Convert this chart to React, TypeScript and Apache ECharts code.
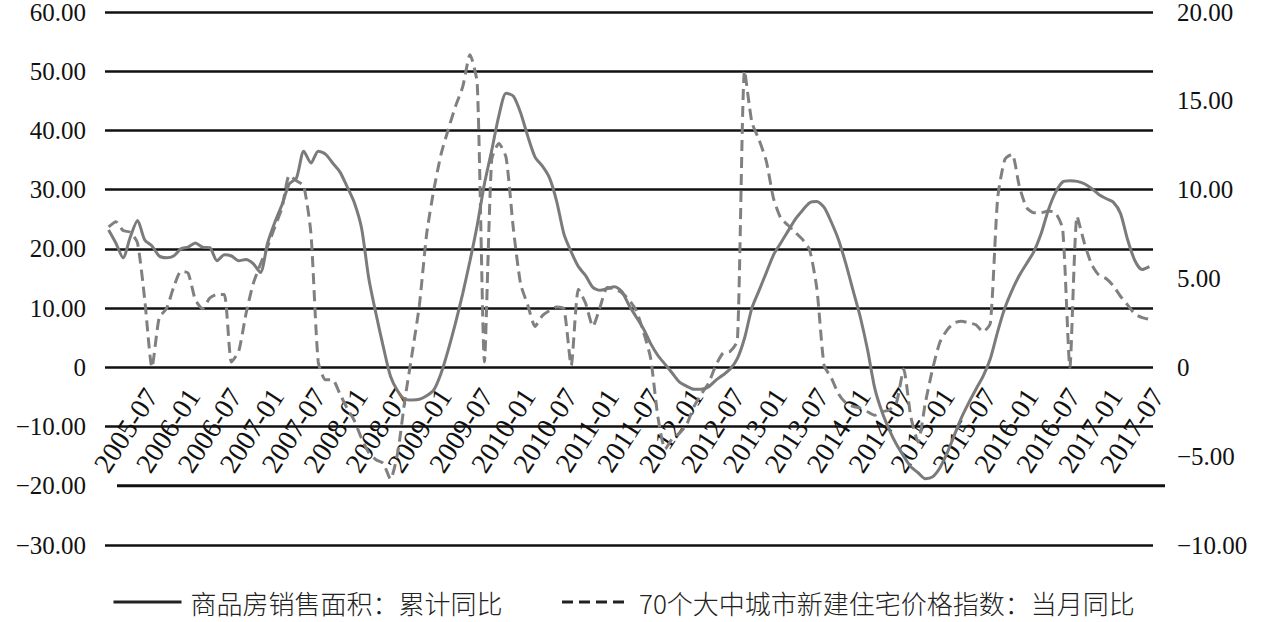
import React, { useEffect, useRef } from "react";
import * as echarts from "echarts";

// Monthly categories 2005-07 .. 2017-07
const months: string[] = (() => {
  const out: string[] = [];
  for (let y = 2005; y <= 2017; y++) {
    for (let m = 1; m <= 12; m++) {
      if (y === 2005 && m < 7) continue;
      if (y === 2017 && m > 7) break;
      out.push(`${y}-${m < 10 ? "0" + m : m}`);
    }
  }
  return out;
})();

const tickLabels: string[] = [
  "2005-07", "2006-01", "2006-07", "2007-01", "2007-07", "2008-01", "2008-07",
  "2009-01", "2009-07", "2010-01", "2010-07", "2011-01", "2011-07", "2012-01",
  "2012-07", "2013-01", "2013-07", "2014-01", "2014-07", "2015-01", "2015-07",
  "2016-01", "2016-07", "2017-01", "2017-07",
];

const seriesNames: string[] = [
  "商品房销售面积：累计同比",
  "70个大中城市新建住宅价格指数：当月同比",
];

// 商品房销售面积：累计同比 (left axis)
const salesArea: number[] = [
  23.2, 21.0, 18.5, 22.0, 24.8, 21.5, 20.5, 18.8, 18.5, 18.8,
  20.0, 20.3, 21.0, 20.3, 20.2, 18.0, 19.0, 18.8, 18.0, 18.2,
  17.5, 16.0, 21.0, 24.5, 27.5, 31.0, 32.0, 36.5, 34.5, 36.5,
  36.0, 34.5, 33.0, 30.5, 27.8, 23.5, 15.0, 9.0, 3.5, -1.5,
  -4.0, -5.4, -5.5, -5.4, -4.8, -3.8, -1.0, 3.0, 7.5, 12.5,
  18.0, 24.0, 31.0, 36.6, 42.5, 46.3, 45.8, 43.0, 39.0, 35.5,
  34.0, 32.0, 28.0, 22.5, 19.5, 17.0, 15.5, 13.5, 13.0, 13.3,
  13.6, 12.8, 10.5, 8.5, 6.5, 4.0, 2.0, 0.5, -1.0, -2.5,
  -3.2, -3.7, -3.7, -3.3, -2.2, -1.3, -0.3, 1.5, 5.0, 10.0,
  13.0, 16.0, 19.0, 21.0, 23.0, 25.0, 26.5, 27.8, 28.0, 27.0,
  24.5, 21.5, 17.5, 13.0, 8.5, 3.0, -3.5, -7.5, -10.5, -13.0,
  -15.0, -16.8, -17.8, -18.8, -18.5, -17.0, -14.5, -11.5, -8.5, -6.0,
  -3.7, -1.5, 1.5, 6.0, 10.0, 13.0, 15.5, 17.5, 19.5, 22.5,
  26.5, 29.5, 31.3, 31.5, 31.4, 31.0, 30.2, 29.2, 28.5, 27.9,
  26.0, 21.5, 18.0, 16.5, 17.0,
];

// 70个大中城市新建住宅价格指数：当月同比 (right axis)
const priceIndex: number[] = [
  7.9, 8.2, 7.7, 7.6, 7.0, 3.8, 0.0, 2.8, 3.3, 4.5,
  5.4, 5.3, 3.8, 3.3, 3.9, 4.1, 4.1, 0.3, 0.9, 3.0,
  4.7, 5.8, 6.8, 7.9, 9.0, 10.8, 10.5, 10.2, 7.5, 0.3,
  -0.7, -0.7, -1.5, -2.3, -3.0, -4.0, -4.8, -5.2, -5.4, -6.3,
  -4.8, -1.8, 0.8, 3.5, 7.5, 10.0, 12.0, 13.4, 14.7, 15.8,
  17.6, 16.0, 0.3, 11.7, 12.6, 11.8, 7.8, 4.7, 3.5, 2.3,
  2.9, 3.2, 3.4, 3.3, 0.1, 4.4, 3.6, 2.3, 3.4, 4.5,
  4.4, 4.2, 3.8, 3.2, 2.0, 0.5, -2.8, -4.6, -4.0, -3.7,
  -3.2, -2.2, -1.5, -0.9, 0.1, 0.8, 0.9, 1.5, 16.7, 13.8,
  12.8, 11.6, 9.5, 8.4, 8.0, 7.6, 7.2, 6.6, 4.4, 0.1,
  -0.6, -1.5, -2.0, -2.2, -2.3, -2.5, -2.7, -2.5, -2.4, -2.0,
  -0.1, -2.8, -4.2, -2.0, -0.1, 1.4, 2.1, 2.5, 2.6, 2.5,
  2.4, 2.0, 2.5, 9.5, 11.7, 12.0, 10.2, 9.0, 8.7, 8.7,
  8.8, 8.7, 7.8, 0.0, 8.5, 7.0, 5.8, 5.2, 5.0, 4.6,
  4.0, 3.5, 3.0, 2.8, 2.7,
];

const LEFT_MIN = -30;
const LEFT_MAX = 60;

const SERIF = "'Liberation Serif', 'Times New Roman', serif";
const CJK = "'Noto Sans CJK SC', 'Noto Sans', sans-serif";

const fmt = (v: number) =>
  v === 0 ? "0" : (v < 0 ? "\u2212" : "") + Math.abs(v).toFixed(2);

const GRID = { left: 105, right: 110, top: 12, bottom: 77 };
const CHART_H = 622;

export default function App() {
  const ref = useRef<HTMLDivElement>(null);

  useEffect(() => {
    if (!ref.current) return;
    const chart = echarts.init(ref.current, null, { renderer: "svg" });
    const gridColors = [
      "#111", "transparent", "#111", "#111", "#111", "#111", "#111", "#111", "#111", "#111",
    ];
    const gridH = CHART_H - GRID.top - GRID.bottom;
    // Lift the label axis from the grid bottom up to the zero line of the left axis
    const zeroOffset = -(gridH * (0 - LEFT_MIN)) / (LEFT_MAX - LEFT_MIN);
    chart.setOption({
      animation: false,
      backgroundColor: "#fff",
      grid: {
        ...GRID,
        containLabel: false,
        outerBoundsMode: "none",
      },
      legend: {
        left: 112,
        top: 588,
        padding: 0,
        itemWidth: 68,
        itemHeight: 14,
        itemGap: 58,
        textStyle: {
          fontFamily: CJK,
          fontSize: 26,
          lineHeight: 28,
          fontWeight: 300,
          color: "#222",
          padding: [0, 0, 0, 4],
        },
        itemStyle: { opacity: 0 },
        lineStyle: { color: "#222", width: 3 },
        data: seriesNames,
      },
      xAxis: [
        {
          type: "category",
          data: months,
          boundaryGap: true,
          show: false,
        },
        {
          type: "category",
          data: tickLabels,
          boundaryGap: true,
          position: "bottom",
          offset: zeroOffset,
          axisLine: { show: false, onZero: false },
          axisTick: { show: false },
          splitLine: { show: false },
          axisLabel: {
            interval: 0,
            rotate: 57,
            align: "center",
            verticalAlign: "middle",
            margin: 63,
            fontFamily: SERIF,
            fontSize: 28,
            lineHeight: 22,
            color: "#111",
          },
        },
      ],
      yAxis: [
        {
          type: "value",
          min: LEFT_MIN,
          max: LEFT_MAX,
          interval: 10,
          position: "left",
          axisLine: { show: false },
          axisTick: { show: false },
          axisLabel: {
            formatter: fmt,
            margin: 19,
            fontFamily: SERIF,
            fontSize: 25,
            lineHeight: 20,
            color: "#111",
          },
          splitLine: { show: true, lineStyle: { color: gridColors, width: 2.5 } },
        },
        {
          type: "value",
          min: -10,
          max: 20,
          interval: 5,
          position: "right",
          axisLine: { show: false },
          axisTick: { show: false },
          axisLabel: {
            formatter: fmt,
            margin: 24,
            fontFamily: SERIF,
            fontSize: 25,
            lineHeight: 20,
            color: "#111",
          },
          splitLine: { show: false },
        },
      ],
      series: [
        {
          name: seriesNames[0],
          type: "line",
          xAxisIndex: 0,
          yAxisIndex: 0,
          data: salesArea,
          showSymbol: false,
          symbol: "none",
          smooth: 0.25,
          lineStyle: { color: "#7b7b7b", width: 3 },
          itemStyle: { color: "#7b7b7b" },
          z: 3,
        },
        {
          name: seriesNames[1],
          type: "line",
          xAxisIndex: 0,
          yAxisIndex: 1,
          data: priceIndex,
          showSymbol: false,
          symbol: "none",
          smooth: 0.2,
          lineStyle: { color: "#808080", width: 3, type: [11, 6] },
          itemStyle: { color: "#808080" },
          z: 2,
        },
      ],
    });
    // Extended baseline at -20 (decorative axis line), positioned via the axis scale
    const yPix = chart.convertToPixel({ yAxisIndex: 0 }, -20) as number;
    const x0 = chart.convertToPixel({ xAxisIndex: 1 }, tickLabels[0]) as number;
    const x1 = chart.convertToPixel({ xAxisIndex: 1 }, tickLabels[tickLabels.length - 1]) as number;
    const band = (x1 - x0) / (tickLabels.length - 1);
    chart.setOption({
      graphic: [
        {
          type: "line",
          shape: { x1: x0 - band / 2 + 12, y1: yPix, x2: x1 + band / 2 + 12, y2: yPix },
          style: { stroke: "#111", lineWidth: 3 },
          z: 1,
        },
      ],
    });
    return () => chart.dispose();
  }, []);

  return (
    <div
      ref={ref}
      style={{ position: "fixed", left: 0, top: 0, width: 1263, height: CHART_H }}
    />
  );
}
